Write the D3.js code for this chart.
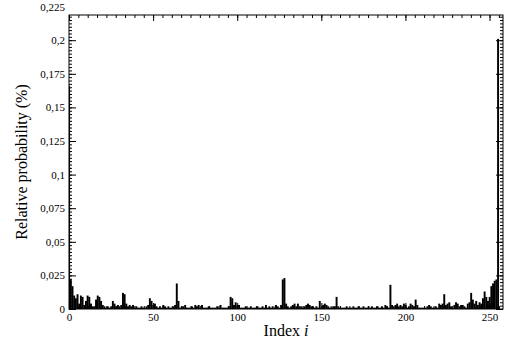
<!DOCTYPE html>
<html>
<head>
<meta charset="utf-8">
<script src="https://cdn.jsdelivr.net/npm/d3@7"></script>
<style>
	html, body { margin: 0; padding: 0; background: #fff; }
	svg { display: block; }
	text { font-family: "Liberation Serif", "Times New Roman", serif; fill: #000; }
	.domain { display: none; }
</style>
</head>
<body>
<svg id="chart" width="511" height="345"></svg>
<script>
// relative probability (%) for each index 0..255
const probs = [
	0.166, 0.022, 0.017, 0.010, 0.008, 0.011, 0.004, 0.010, 0.009, 0.003,
	0.006, 0.010, 0.009, 0.004, 0.002, 0.002, 0.007, 0.010, 0.009, 0.006,
	0.003, 0.002, 0.001, 0.002, 0.001, 0.002, 0.006, 0.004, 0.002, 0.003,
	0.002, 0.003, 0.012, 0.011, 0.004, 0.002, 0.003, 0.002, 0.003, 0.001,
	0.002, 0.001, 0.001, 0.002, 0.001, 0.001, 0.002, 0.003, 0.008, 0.006,
	0.003, 0.004, 0.002, 0.001, 0.002, 0.001, 0.003, 0.002, 0.001, 0.002,
	0.001, 0.001, 0.002, 0.003, 0.019, 0.006, 0.001, 0.002, 0.002, 0.003,
	0.001, 0.001, 0.001, 0.002, 0.001, 0.003, 0.002, 0.003, 0.001, 0.003,
	0.001, 0.001, 0.001, 0.002, 0.001, 0.001, 0.001, 0.001, 0.002, 0.001,
	0.003, 0.001, 0.001, 0.001, 0.001, 0.002, 0.009, 0.008, 0.003, 0.005,
	0.003, 0.003, 0.001, 0.001, 0.001, 0.002, 0.001, 0.001, 0.002, 0.001,
	0.001, 0.001, 0.002, 0.001, 0.001, 0.002, 0.001, 0.003, 0.001, 0.002,
	0.001, 0.002, 0.001, 0.003, 0.002, 0.001, 0.003, 0.022, 0.023, 0.004,
	0.002, 0.001, 0.002, 0.003, 0.004, 0.002, 0.004, 0.002, 0.002, 0.001,
	0.002, 0.003, 0.004, 0.003, 0.002, 0.002, 0.001, 0.002, 0.001, 0.006,
	0.001, 0.003, 0.004, 0.003, 0.002, 0.001, 0.001, 0.002, 0.002, 0.009,
	0.002, 0.001, 0.001, 0.001, 0.001, 0.002, 0.001, 0.001, 0.001, 0.002,
	0.001, 0.001, 0.002, 0.001, 0.001, 0.002, 0.001, 0.001, 0.002, 0.001,
	0.002, 0.001, 0.001, 0.002, 0.001, 0.001, 0.002, 0.001, 0.003, 0.002,
	0.001, 0.018, 0.003, 0.002, 0.003, 0.004, 0.002, 0.003, 0.002, 0.004,
	0.003, 0.001, 0.002, 0.004, 0.003, 0.002, 0.007, 0.003, 0.001, 0.001,
	0.001, 0.001, 0.001, 0.002, 0.003, 0.002, 0.001, 0.001, 0.002, 0.001,
	0.004, 0.003, 0.004, 0.011, 0.003, 0.004, 0.005, 0.002, 0.001, 0.003,
	0.005, 0.004, 0.002, 0.003, 0.003, 0.002, 0.001, 0.004, 0.005, 0.012,
	0.007, 0.004, 0.006, 0.003, 0.005, 0.004, 0.008, 0.013, 0.009, 0.006,
	0.009, 0.017, 0.019, 0.021, 0.022, 0.201
];
const xTicks = [0, 50, 100, 150, 200, 250];
const yTicks = [0, 0.025, 0.05, 0.075, 0.1, 0.125, 0.15, 0.175, 0.2, 0.225];

const svg = d3.select("#chart");
const margin = {top: 15, right: 8, bottom: 36, left: 69};
const width = 511 - margin.left - margin.right;
const height = 345 - margin.top - margin.bottom;
const serif = "'Liberation Serif', 'Times New Roman', serif";

const x = d3.scaleLinear().domain([0, 258]).range([0, width]);
const y = d3.scaleLinear().domain([0, 0.21875]).range([height, 0]);

const g = svg.append("g")
.attr("transform", `translate(${margin.left}, ${margin.top})`);

g.append("clipPath")
.attr("id", "plot-clip")
.append("rect")
.attr("width", width)
.attr("height", height);

// bars
const barW = x(1) - x(0);
g.append("g")
.attr("clip-path", "url(#plot-clip)")
.selectAll("rect")
.data(probs)
.enter()
.append("rect")
.attr("x", (d, i) => x(i - 0.5))
.attr("width", barW + 0.25)
.attr("y", d => y(d))
.attr("height", d => height - y(d))
.attr("fill", "#000");

const comma = d => String(d).replace(".", ",");

// minor ticks
const xMinor = d3.range(0, 258, 50 / 9);
const yMinor = d3.range(0, 0.2185, 0.0025);

g.append("g").attr("transform", `translate(0, ${height})`)
.call(d3.axisBottom(x).tickValues(xMinor).tickSize(-3).tickFormat(""));
g.append("g")
.call(d3.axisTop(x).tickValues(xMinor).tickSize(-3).tickFormat(""));
g.append("g")
.call(d3.axisLeft(y).tickValues(yMinor).tickSize(-3).tickFormat(""));
g.append("g").attr("transform", `translate(${width}, 0)`)
.call(d3.axisRight(y).tickValues(yMinor).tickSize(-3).tickFormat(""));

// major ticks
const xAxis = g.append("g").attr("transform", `translate(0, ${height})`)
.call(d3.axisBottom(x).tickValues(xTicks).tickSize(-6).tickPadding(3));
g.append("g")
.call(d3.axisTop(x).tickValues(xTicks).tickSize(-6).tickFormat(""));
const yAxis = g.append("g")
.call(d3.axisLeft(y).tickValues(yTicks).tickSize(-7).tickPadding(4).tickFormat(comma));
g.append("g").attr("transform", `translate(${width}, 0)`)
.call(d3.axisRight(y).tickValues(yTicks.filter(v => v <= 0.21875)).tickSize(-7).tickFormat(""));

// the top label sits above the frame, no tick mark there
yAxis.selectAll(".tick").filter(d => d > 0.21875).select("line").remove();

svg.selectAll(".tick line").attr("stroke", "#000");
svg.selectAll(".tick text")
.style("font-family", serif)
.style("font-size", "11px");
xAxis.selectAll("text").attr("dy", "0.85em");
yAxis.selectAll("text").attr("x", -4);

// frame
g.append("rect")
.attr("width", width)
.attr("height", height)
.attr("fill", "none")
.attr("stroke", "#000")
.attr("stroke-width", 1);

// axis titles
svg.append("text")
.attr("transform", `translate(27, ${margin.top + height / 2}) rotate(-90)`)
.attr("text-anchor", "middle")
.style("font-size", "16px")
.text("Relative probability (%)");

const xt = svg.append("text")
.attr("x", margin.left + width / 2)
.attr("y", 336)
.attr("text-anchor", "middle")
.style("font-size", "16px");
xt.append("tspan").text("Index ");
xt.append("tspan").attr("font-style", "italic").text("i");
</script>
</body>
</html>
